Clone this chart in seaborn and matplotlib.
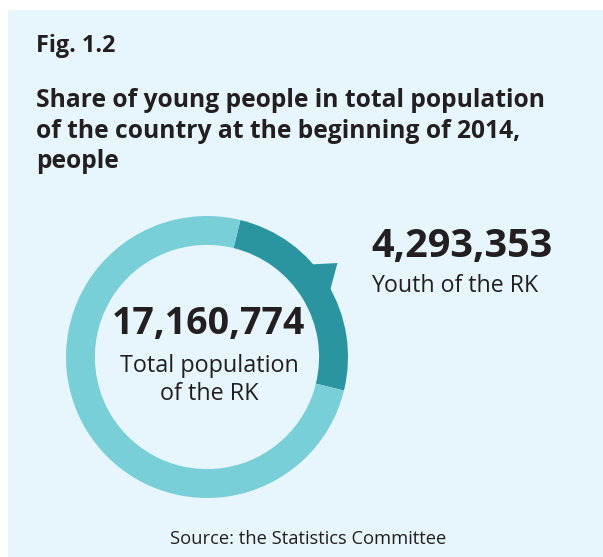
import numpy as np
import matplotlib
matplotlib.use("Agg")
import matplotlib.pyplot as plt
import seaborn as sns
from matplotlib.patches import Rectangle, Polygon

# data
fig_label = "Fig. 1.2"
title = "Share of young people in total population\nof the country at the beginning of 2014,\npeople"
total_population = 17160774
youth_population = 4293353
labels = ["Youth of the RK", "Rest of population"]
values = [youth_population, total_population - youth_population]
source = "Source: the Statistics Committee"

dark_teal = "#2A94A0"
light_teal = "#79CFD8"
panel_bg = "#E7F6FD"
text_color = "#231F20"

sns.set_theme(style="white")
plt.rcParams['font.family'] = ['Open Sans', 'DejaVu Sans']

W, H = 603, 557
fig = plt.figure(figsize=(W / 100, H / 100), dpi=100)
fig.patch.set_facecolor("white")


def fx(x):
    return x / W


def fy(y):
    return 1 - y / H


# light-blue panel (behind everything)
fig.patches.append(Rectangle((fx(8), 0), 1 - fx(8), fy(10), transform=fig.transFigure,
                             facecolor=panel_bg, edgecolor="none", zorder=-5))

# donut axes: center (207, 357) px, radius 141 px
cx, cy, r = 207, 357, 141
ax = fig.add_axes([fx(cx - r), fy(cy + r), 2 * r / W, 2 * r / H])
ax.set_facecolor("none")
start = 76.3
wedges, _ = ax.pie(values, colors=[dark_teal, light_teal], startangle=start,
                   counterclock=False, radius=1,
                   wedgeprops=dict(width=0.205, edgecolor="none", linewidth=0))

# small pointer on the youth segment
th1, th2 = wedges[0].theta1, wedges[0].theta2
mid = (th1 + th2) / 2
a_lo, a_hi, a_tip = np.radians(mid - 3.0), np.radians(mid + 10.3), np.radians(mid + 4.5)
pointer = Polygon([(0.99 * np.cos(a_lo), 0.99 * np.sin(a_lo)),
                   (1.14 * np.cos(a_tip), 1.14 * np.sin(a_tip)),
                   (0.99 * np.cos(a_hi), 0.99 * np.sin(a_hi))],
                  closed=True, facecolor=dark_teal, edgecolor="none")
ax.add_patch(pointer)
pointer.set_clip_on(False)
ax.set_xlim(-1, 1)
ax.set_ylim(-1, 1)
ax.set_aspect("equal")
ax.axis("off")

# texts
fig.text(fx(36), fy(46), fig_label, fontsize=16.8, fontweight="bold",
         color=text_color, va="center", ha="left")
fig.text(fx(36), fy(131), title, fontsize=17.7, fontweight="bold",
         color=text_color, va="center", ha="left", linespacing=1.3)

fig.text(fx(208), fy(324), f"{total_population:,}", fontsize=27, fontweight="bold",
         color=text_color, ha="center", va="center")
fig.text(fx(209), fy(380), "Total population\nof the RK", fontsize=16.8,
         color=text_color, ha="center", va="center", linespacing=1.2)

fig.text(fx(371), fy(247), f"{youth_population:,}", fontsize=28.5, fontweight="bold",
         color=text_color, ha="left", va="center")
fig.text(fx(371), fy(286), labels[0], fontsize=16.7,
         color=text_color, ha="left", va="center")

fig.text(fx(308), fy(539), source, fontsize=13.2,
         color=text_color, ha="center", va="center")

fig.savefig("out.png", dpi=100, facecolor=fig.get_facecolor())
